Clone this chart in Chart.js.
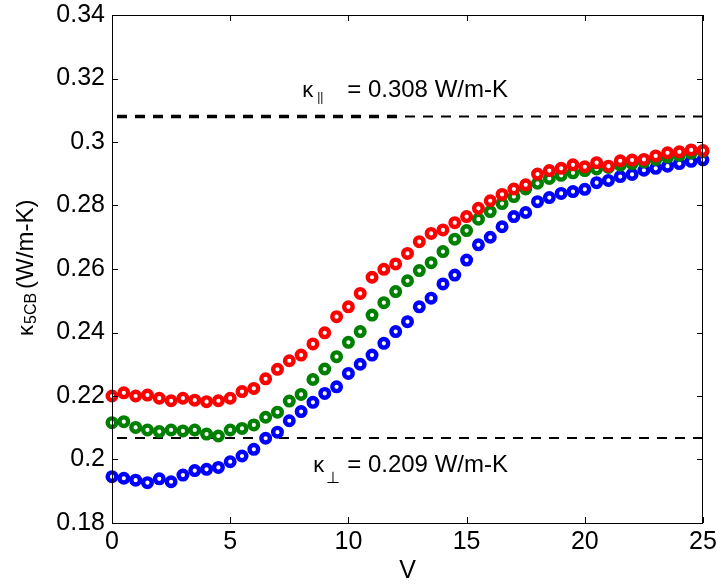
<!DOCTYPE html>
<html>
<head>
<meta charset="utf-8">
<title>Thermal conductivity of 5CB vs voltage</title>
<script src="https://cdn.jsdelivr.net/npm/chart.js@4.4.0/dist/chart.umd.min.js"></script>
<style>
  body { margin: 0; background: #fff; }
  canvas { display: block; }
</style>
</head>
<body>
<canvas id="kappaChart" width="717" height="586"></canvas>
<script>
"use strict";

// applied voltage (V), one reading every 0.5 V
var volts = [0, 0.5, 1, 1.5, 2, 2.5, 3, 3.5, 4, 4.5, 5, 5.5, 6, 6.5, 7, 7.5, 8, 8.5, 9, 9.5,
             10, 10.5, 11, 11.5, 12, 12.5, 13, 13.5, 14, 14.5, 15, 15.5, 16, 16.5, 17, 17.5,
             18, 18.5, 19, 19.5, 20, 20.5, 21, 21.5, 22, 22.5, 23, 23.5, 24, 24.5, 25];

// kappa_5CB (W/m-K) for the three runs
var redK = [0.2200, 0.2210, 0.2200, 0.2203, 0.2193, 0.2185, 0.2193, 0.2187, 0.2182, 0.2185,
            0.2193, 0.2214, 0.2224, 0.2254, 0.2284, 0.2311, 0.2329, 0.2364, 0.2399, 0.2450,
            0.2481, 0.2523, 0.2574, 0.2599, 0.2616, 0.2649, 0.2686, 0.2712, 0.2723, 0.2746,
            0.2765, 0.2791, 0.2815, 0.2835, 0.2852, 0.2865, 0.2899, 0.2910, 0.2917, 0.2928,
            0.2922, 0.2935, 0.2924, 0.2941, 0.2943, 0.2945, 0.2956, 0.2966, 0.2969, 0.2975, 0.2973];

var greenK = [0.2116, 0.2119, 0.2101, 0.2093, 0.2088, 0.2093, 0.2090, 0.2093, 0.2080, 0.2074,
              0.2093, 0.2098, 0.2109, 0.2133, 0.2149, 0.2184, 0.2205, 0.2252, 0.2285, 0.2324,
              0.2369, 0.2403, 0.2455, 0.2494, 0.2529, 0.2563, 0.2595, 0.2620, 0.2655, 0.2694,
              0.2721, 0.2757, 0.2781, 0.2806, 0.2828, 0.2852, 0.2870, 0.2885, 0.2895, 0.2903,
              0.2910, 0.2915, 0.2920, 0.2927, 0.2932, 0.2937, 0.2945, 0.2952, 0.2958, 0.2965, 0.2970];

var blueK = [0.1946, 0.1941, 0.1935, 0.1927, 0.1939, 0.1930, 0.1951, 0.1965, 0.1969, 0.1975,
             0.1993, 0.2011, 0.2032, 0.2067, 0.2086, 0.2122, 0.2151, 0.2180, 0.2208, 0.2229,
             0.2271, 0.2300, 0.2329, 0.2366, 0.2403, 0.2434, 0.2481, 0.2508, 0.2553, 0.2581,
             0.2628, 0.2676, 0.2700, 0.2733, 0.2765, 0.2778, 0.2812, 0.2825, 0.2838, 0.2844,
             0.2851, 0.2872, 0.2879, 0.2891, 0.2898, 0.2911, 0.2917, 0.2924, 0.2932, 0.2939, 0.2944];

// reference limits drawn as dashed lines (the left part of the upper one is heavier)
var limitX = [0, 25];
var heavyX = [0, 12.3];
var kPar = 0.308;
var kPerp = 0.2068;

var xTicks = [0, 5, 10, 15, 20, 25];
var yTicks = [0.18, 0.2, 0.22, 0.24, 0.26, 0.28, 0.3, 0.32, 0.34];

var FONT = "'Liberation Sans', Arial, Helvetica, sans-serif";

function toPoints(xs, ys) {
    return xs.map(function (x, i) { return { x: x, y: ys[i] }; });
}

function markers(label, color, values) {
    return {
        label: label,
        data: toPoints(volts, values),
        showLine: false,
        pointRadius: 4.3,
        pointBorderWidth: 4.4,
        pointBorderColor: color,
        pointBackgroundColor: '#fff',
        clip: false
    };
}

function limitLine(xs, value, width) {
    return {
        label: 'limit',
        data: toPoints(xs, xs.map(function () { return value; })),
        showLine: true,
        borderColor: '#000',
        borderWidth: width,
        borderDash: [10, 8],
        borderDashOffset: -5,
        pointRadius: 0,
        clip: false
    };
}

// keep the plot box where the layout padding puts it
function noOverflow(scale) {
    scale.paddingTop = 0;
    scale.paddingBottom = 0;
    scale.paddingLeft = 0;
    scale.paddingRight = 0;
}

// MATLAB style box with inward ticks, labels on the dashed lines, y title with subscript
var matlabFrame = {
    id: 'matlabFrame',
    afterDatasetsDraw: function (chart) {
        var ctx = chart.ctx;
        var a = chart.chartArea;
        var xs = chart.scales.x, ys = chart.scales.y;
        ctx.save();
        ctx.strokeStyle = '#000';
        ctx.lineWidth = 1;
        ctx.strokeRect(a.left + 0.5, a.top + 0.5, a.right - a.left - 1, a.bottom - a.top);
        ctx.beginPath();
        xTicks.forEach(function (v) {
            var px = Math.round(xs.getPixelForValue(v)) + 0.5;
            ctx.moveTo(px, a.bottom); ctx.lineTo(px, a.bottom - 6);
            ctx.moveTo(px, a.top); ctx.lineTo(px, a.top + 6);
        });
        yTicks.forEach(function (v) {
            var py = Math.round(ys.getPixelForValue(v)) + 0.5;
            ctx.moveTo(a.left, py); ctx.lineTo(a.left + 6, py);
            ctx.moveTo(a.right, py); ctx.lineTo(a.right - 6, py);
        });
        ctx.stroke();

        ctx.fillStyle = '#000';
        ctx.textBaseline = 'alphabetic';
        ctx.textAlign = 'left';

        // kappa parallel label
        var eqX = xs.getPixelForValue(9.95);
        var y1 = ys.getPixelForValue(0.3142);
        ctx.font = '22px ' + FONT;
        ctx.fillText('\u03ba', eqX - 45, y1);
        ctx.font = '24px ' + FONT;
        ctx.fillText('= 0.308 W/m-K', eqX, y1);
        ctx.font = '12px ' + FONT;
        ctx.fillText('||', eqX - 30, y1 + 4);

        // kappa perpendicular label
        var y2 = ys.getPixelForValue(0.1962);
        ctx.font = '22px ' + FONT;
        ctx.fillText('\u03ba', eqX - 34, y2);
        ctx.font = '24px ' + FONT;
        ctx.fillText('= 0.209 W/m-K', eqX, y2);
        ctx.font = '16px ' + FONT;
        ctx.fillText('\u22a5', eqX - 21, y2 + 11);

        // y axis title
        var cy = (a.top + a.bottom) / 2 - 5;
        ctx.translate(33, cy);
        ctx.rotate(-Math.PI / 2);
        ctx.font = '22px ' + FONT;
        var x0 = -72;
        ctx.fillText('\u03ba', x0, 0);
        x0 += ctx.measureText('\u03ba').width + 1;
        ctx.font = '16px ' + FONT;
        ctx.fillText('5CB', x0, 3);
        x0 += ctx.measureText('5CB').width + 4;
        ctx.font = '24px ' + FONT;
        ctx.fillText('(W/m-K)', x0, 0);
        ctx.restore();
    }
};

new Chart(document.getElementById('kappaChart'), {
    type: 'scatter',
    data: {
        datasets: [
            markers('red', '#ff0000', redK),
            markers('green', '#008000', greenK),
            markers('blue', '#0000ff', blueK),
            limitLine(limitX, kPar, 2),
            limitLine(heavyX, kPar, 3.5),
            limitLine(limitX, kPerp, 2)
        ]
    },
    options: {
        responsive: false,
        animation: false,
        layout: { padding: { left: 0, right: 14, top: 15, bottom: 0 } },
        plugins: { legend: { display: false }, tooltip: { enabled: false } },
        scales: {
            x: {
                type: 'linear',
                min: 0, max: 25,
                grid: { display: false, drawTicks: false },
                border: { display: false },
                afterBuildTicks: function (scale) {
                    scale.ticks = xTicks.map(function (v) { return { value: v }; });
                },
                afterFit: function (scale) { scale.height = 63; noOverflow(scale); },
                ticks: { color: '#000', padding: 4, maxRotation: 0, font: { family: FONT, size: 25 } },
                title: { display: true, text: 'V', color: '#000', padding: 0, font: { family: FONT, size: 25 } }
            },
            y: {
                type: 'linear',
                min: 0.18, max: 0.34,
                grid: { display: false, drawTicks: false },
                border: { display: false },
                afterBuildTicks: function (scale) {
                    scale.ticks = yTicks.map(function (v) { return { value: v }; });
                },
                afterFit: function (scale) { scale.width = 112; noOverflow(scale); },
                ticks: {
                    color: '#000', padding: 7, font: { family: FONT, size: 25 },
                    callback: function (v) { return String(+v.toFixed(2)); }
                }
            }
        }
    },
    plugins: [matlabFrame]
});
</script>
</body>
</html>
